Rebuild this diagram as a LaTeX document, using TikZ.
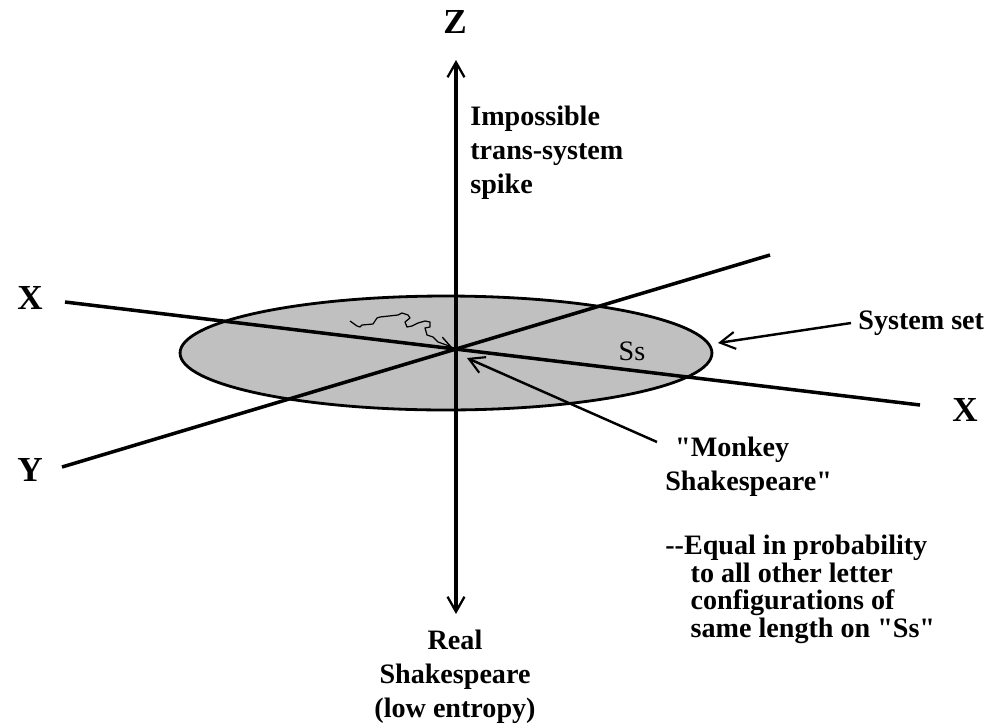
\documentclass[tikz,border=0pt]{standalone}
\usepackage{fontspec}
\setmainfont{Liberation Serif}
\usetikzlibrary{arrows.meta,positioning,shapes.geometric}
\definecolor{setgray}{HTML}{C0C0C0}

\begin{document}
\begin{tikzpicture}[
    x=0.02cm, y=-0.02cm,
    axis/.style={line width=2pt},
    barb/.style={-{Straight Barb[length=3mm,width=3.4mm,line width=1.2pt]}},
    axislabel/.style={font=\bfseries\fontsize{20}{24}\selectfont, inner sep=0pt},
    note/.style={font=\bfseries\fontsize{16}{19.3}\selectfont, align=left, inner sep=0pt}
  ]
  \useasboundingbox (0,0) rectangle (1000,727);

  % the system set
  \node[ellipse, draw, line width=1.6pt, fill=setgray,
        minimum width=10.64cm, minimum height=2.28cm] (ss) at (446,353) {};

  % axis ends
  \coordinate (xl) at (65,302);
  \coordinate (xr) at (920,405);
  \coordinate (yl) at (62,467);
  \coordinate (yr) at (770,255);
  \coordinate (zt) at (456,60);
  \coordinate (zb) at (456,614);

  \draw[axis] (xl) -- (xr);
  \draw[axis] (yl) -- (yr);
  \draw[axis, {Straight Barb[length=3mm,width=3.4mm,line width=1.3pt]}-{Straight Barb[length=3mm,width=3.4mm,line width=1.3pt]}] (zb) -- (zt);

  \node[axislabel] (zlab) at (455,22) {Z};
  \node[axislabel] (xlab) at (30,298) {X};
  \node[axislabel] (xlab2) at (965,410) {X};
  \node[axislabel] (ylab) at (30,470) {Y};
  \node[font=\fontsize{16}{19}\selectfont, inner sep=0pt] (sslab) at (632,351) {Ss};

  \node[note, anchor=west] (spike) at (470,153) {Impossible\\trans-system\\spike};
  \node[note, anchor=west, inner sep=4pt] (sysset) at (851,323) {System set};
  \coordinate (sstip) at (718,343);
  \draw[line width=1.4pt, barb] (sysset.west) -- (sstip);

  \node[note, anchor=north west] (monkey) at (665,437) {\hspace*{0.35em}\textquotedbl Monkey\\Shakespeare\textquotedbl};
  \node[note, anchor=north west, font=\bfseries\fontsize{16}{15.6}\selectfont] (equal) at (665,535)
    {-{}-Equal in probability\\\hspace*{0.9em}to all other letter\\\hspace*{0.9em}configurations of\\\hspace*{0.9em}same length on \textquotedbl Ss\textquotedbl};
  \coordinate (mtail) at (657,442);
  \coordinate (mtip) at (467,358);
  \draw[line width=1.4pt, barb] (mtail) -- (mtip);

  \node[note, align=center] (real) at (455,677) {Real\\Shakespeare\\(low entropy)};

  % random walk of letters
  \coordinate (walk) at (350,321);
  \coordinate (walktip) at (452,347);
  \draw[line width=0.7pt, line join=round, -{Straight Barb[length=2.2mm,width=2.4mm,line width=0.8pt]}]
    (walk) -- (357,326) -- (360,327) -- (362,325) -- (373,324) -- (377,318)
    -- (380,317) -- (398,315) -- (402,313) -- (408,315) -- (410,318) -- (405,322)
    -- (407,327) -- (412,326) -- (418,323) -- (425,321) -- (430,322) -- (430,327)
    -- (425,328) -- (427,335) -- (433,337) -- (438,342) -- (walktip);
\end{tikzpicture}
\end{document}
